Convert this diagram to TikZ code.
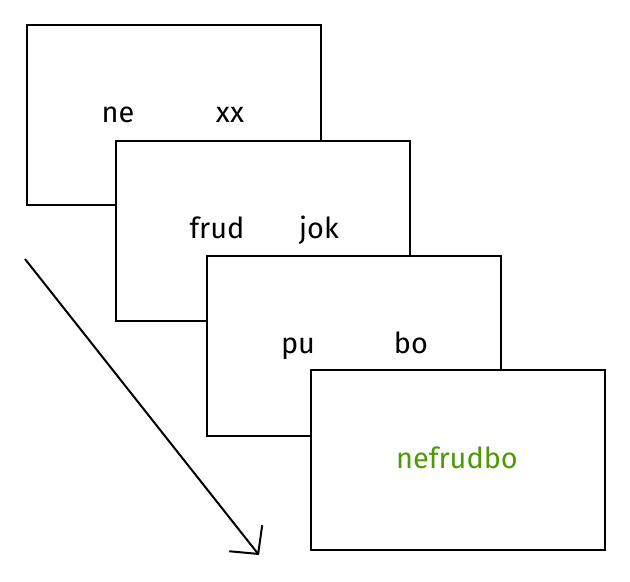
\documentclass[tikz,border=0pt]{standalone}
\usepackage{fontspec}
\setmainfont{Fira Sans}
\usepackage{tikz}
\usetikzlibrary{positioning, arrows.meta}
\definecolor{leafgreen}{HTML}{4E9A06}
\tikzset{x=1bp, y=-1bp, card/.style={draw, line width=1.4bp, fill=white, minimum width=294bp, minimum height=180bp, inner sep=0pt}, word/.style={font=\fontsize{29}{34}\selectfont, inner sep=0pt, anchor=base}}

\begin{document}
\begin{tikzpicture}
	\useasboundingbox (0,0) rectangle (630,582);
	\node[card] (Card1) at (174,115) {};
	\node[word] (ne) at (118,122.5) {ne};
	\node[word] (xx) at (230,122.5) {xx};
	\node[card] (Card2) at (263,231) {};
	\node[word] (frud) at (217,238) {frud};
	\node[word] (jok) at (319,238) {jok};
	\node[card] (Card3) at (354,346) {};
	\node[word] (pu) at (298,353.5) {pu};
	\node[word] (bo) at (411,353.5) {bo};
	\node[card] (Card4) at (458,460) {};
	\node[word, text=leafgreen] (result) at (457,468) {nefrudbo};
	\coordinate (start) at (25,259);
	\coordinate (stop) at (259,555);
	\draw[line width=2bp, -{Straight Barb[length=20bp, width=42bp]}] (start) -- (stop);
\end{tikzpicture}
\end{document}
